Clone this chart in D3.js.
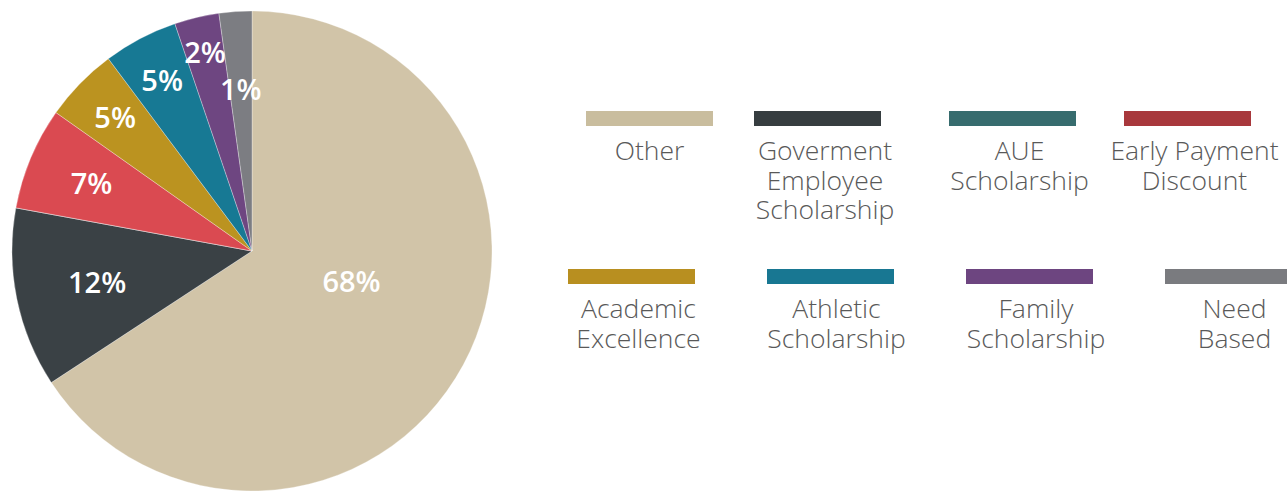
<!DOCTYPE html>
<html>
<head>
<meta charset="utf-8">
<script src="https://cdn.jsdelivr.net/npm/d3@7/dist/d3.min.js"></script>
<style>
  html, body { margin: 0; padding: 0; background: #ffffff; }
  svg { display: block; }
</style>
</head>
<body>
<div id="chart"></div>
<script>
// ---------- data ----------
const categories = ["Other", "Goverment Employee Scholarship", "AUE Scholarship", "Early Payment Discount",
                    "Academic Excellence", "Athletic Scholarship", "Family Scholarship", "Need Based"];
const values = [65.7, 12.1, 0, 6.9, 5.0, 5.0, 3.0, 2.2];
const valueLabels = ["68%", "12%", "", "7%", "5%", "5%", "2%", "1%"];
const legendLines = [["Other"], ["Goverment", "Employee", "Scholarship"], ["AUE", "Scholarship"], ["Early Payment", "Discount"],
                     ["Academic", "Excellence"], ["Athletic", "Scholarship"], ["Family", "Scholarship"], ["Need", "Based"]];

// ---------- style / layout ----------
const W = 1287, H = 491;
const pieColors = ["#D1C4A8", "#3A4145", "#386E70", "#DA4A51", "#BB9320", "#177994", "#6E4681", "#7C7D82"];
const legendColors = ["#C9BD9E", "#363D40", "#376C6E", "#A8383C", "#B88F20", "#187792", "#6D4580", "#7A7B7F"];
const cx = 252, cy = 251, R = 240;
const labelRadius = [104, 158, 0, 174, 191, 193, 204, 162];
const labelAngleShift = [-11.5, 0, 0, 0, 0, 0, 0, 0]; // degrees
const legendSwatchX = [586, 754, 949, 1124, 568, 767, 966, 1165];
const legendTextDx = [0, 7.5, 7, 7, 7, 6, 6.5, 6];
const legendRowY = [111, 269];
const swatchW = 127, swatchH = 15;

const svg = d3.select("#chart").append("svg").attr("width", W).attr("height", H);

const pie = d3.pie().sort(null).value(d => d)(values);
const arc = d3.arc().innerRadius(0).outerRadius(R);
const g = svg.append("g").attr("transform", `translate(${cx},${cy})`);

g.selectAll("path.slice").data(pie).join("path")
  .attr("class", "slice")
  .attr("d", arc)
  .attr("fill", d => pieColors[d.index])
  .attr("stroke", "#ffffff")
  .attr("stroke-opacity", 0.5)
  .attr("stroke-width", 0.6);

const fs = 29;
g.selectAll("text.lbl").data(pie.filter(d => valueLabels[d.index] !== "")).join("text")
  .attr("class", "lbl")
  .attr("transform", d => {
    const i = d.index;
    const a = (d.startAngle + d.endAngle) / 2 + labelAngleShift[i] * Math.PI / 180;
    const r = labelRadius[i];
    const x = Math.sin(a) * r, y = -Math.cos(a) * r;
    return `translate(${x},${y + fs * 0.357})`;
  })
  .attr("text-anchor", "middle")
  .attr("font-family", "'Open Sans', sans-serif")
  .attr("font-weight", 600)
  .attr("font-size", fs)
  .attr("fill", "#ffffff")
  .text(d => valueLabels[d.index]);

// ---------- legend ----------
const leg = svg.append("g");
categories.forEach((c, i) => {
  const row = i < 4 ? 0 : 1;
  const y0 = legendRowY[row];
  const x0 = legendSwatchX[i];
  leg.append("rect").attr("x", x0).attr("y", y0).attr("width", swatchW).attr("height", swatchH)
    .attr("fill", legendColors[i]);
  const tx = x0 + swatchW / 2 + legendTextDx[i];
  const t = leg.append("text")
    .attr("x", tx).attr("y", y0 + 49)
    .attr("text-anchor", "middle")
    .attr("font-family", "'Open Sans', sans-serif")
    .attr("font-weight", 300)
    .attr("font-size", 26.5)
    .attr("fill", "#595959");
  legendLines[i].forEach((ln, k) => {
    t.append("tspan").attr("x", tx).attr("dy", k === 0 ? 0 : 29.5).text(ln);
  });
});
</script>
</body>
</html>
